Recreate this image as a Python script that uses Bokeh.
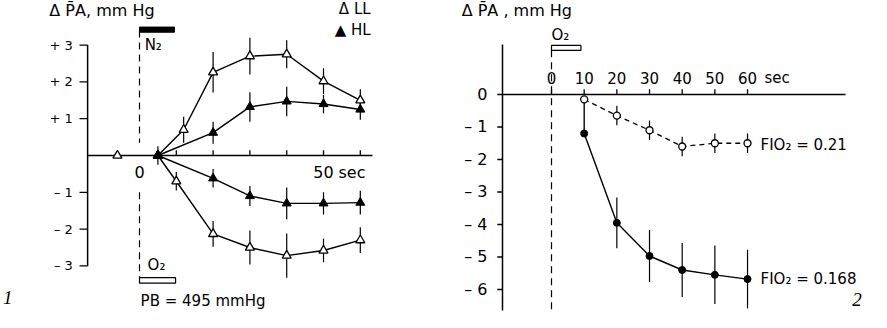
from bokeh.plotting import figure
from bokeh.models import Range1d
from bokeh.layouts import row
from bokeh.core.properties import value
from bokeh.embed import file_html
from bokeh.resources import INLINE

# ---------------- Panel 1 data (PB = 495 mmHg) ----------------
t_pre = [-6]
ll_pre = [0.0]

t_ll_up = [5, 12, 20, 30, 40, 50, 60]
ll_up = [0.0, 0.7, 2.26, 2.7, 2.75, 2.02, 1.5]
ll_up_err = [0.25, 0.35, 0.55, 0.5, 0.38, 0.35, 0.3]

t_hl_up = [5, 20, 30, 40, 50, 60]
hl_up = [0.0, 0.62, 1.32, 1.47, 1.4, 1.25]
hl_up_err = [0.0, 0.3, 0.4, 0.4, 0.25, 0.28]

t_ll_dn = [5, 10, 20, 30, 40, 50, 60]
ll_dn = [0.0, -0.7, -2.13, -2.5, -2.72, -2.58, -2.3]
ll_dn_err = [0.0, 0.25, 0.35, 0.46, 0.6, 0.32, 0.35]

t_hl_dn = [5, 20, 30, 40, 50, 60]
hl_dn = [0.0, -0.62, -1.1, -1.3, -1.3, -1.28]
hl_dn_err = [0.0, 0.25, 0.27, 0.43, 0.3, 0.32]

y1_ticks = [-3, -2, -1, 1, 2, 3]
y1_labels = ["\u2013 3", "\u2013 2", "\u2013 1", "+ 1", "+ 2", "+ 3"]
x1_ticks = [10, 20, 30, 40, 50, 60]
x1_label_pos = [0, 50]
x1_labels = ["0", "50"]
n2_period = [0, 9.5]
o2_period_1 = [0, 9.8]

# ---------------- Panel 2 data ----------------
t2 = [10, 20, 30, 40, 50, 60]
fio_021 = [-0.15, -0.65, -1.1, -1.6, -1.5, -1.5]
fio_021_err = [0.0, 0.3, 0.3, 0.3, 0.3, 0.3]
fio_0168 = [-1.2, -3.95, -4.97, -5.4, -5.55, -5.68]
fio_0168_err = [0.0, 0.78, 0.8, 0.83, 0.9, 0.9]

y2_ticks = [0, -1, -2, -3, -4, -5, -6]
y2_labels = ["0", "\u2013 1", "\u2013 2", "\u2013 3", "\u2013 4", "\u2013 5", "\u2013 6"]
x2_ticks = [0, 10, 20, 30, 40, 50, 60]
x2_labels = ["0", "10", "20", "30", "40", "50", "60"]
o2_period_2 = [0, 9]

FONT = "DejaVu Sans"


def txt(p, x, y, s, size, align="left", baseline="middle", font=FONT, style="normal", xoff=0):
    p.text(x=[x], y=[y], text=[s], text_font=value(font), text_font_size=value(size),
           text_align=align, text_baseline=baseline, text_color="black",
           text_font_style=style, x_offset=xoff)


def make_fig(w, xr, yr):
    p = figure(width=w, height=312, x_range=Range1d(*xr), y_range=Range1d(*yr),
               output_backend="svg", toolbar_location=None,
               x_axis_location=None, y_axis_location=None,
               min_border=0, min_border_left=0, min_border_right=0,
               min_border_top=0, min_border_bottom=0)
    p.outline_line_color = None
    p.grid.visible = False
    p.background_fill_color = "white"
    p.border_fill_color = "white"
    return p


def errbars(p, t, y, e, w=1.2):
    p.segment(x0=t, x1=t, y0=[a - b for a, b in zip(y, e)], y1=[a + b for a, b in zip(y, e)],
              line_color="black", line_width=w)


# ======================= Panel 1 =======================
p1 = make_fig(440, (-37.77, 81.79), (-4.266, 4.212))

# axes
ya1 = -14.1
p1.segment(x0=[ya1], x1=[ya1], y0=[min(y1_ticks)], y1=[max(y1_ticks)], line_color="black", line_width=1.5)
p1.segment(x0=[ya1 - 2.2] * len(y1_ticks), x1=[ya1] * len(y1_ticks), y0=y1_ticks, y1=y1_ticks,
           line_color="black", line_width=1.3)
p1.text(x=[ya1 - 4.0] * len(y1_ticks), y=y1_ticks, text=y1_labels, text_font=value(FONT),
        text_font_size=value("13px"), text_align="right", text_baseline="middle")
p1.segment(x0=[ya1], x1=[63.3], y0=[0], y1=[0], line_color="black", line_width=1.5)
p1.segment(x0=x1_ticks, x1=x1_ticks, y0=[0] * len(x1_ticks), y1=[0.14] * len(x1_ticks),
           line_color="black", line_width=1.3)
p1.text(x=x1_label_pos, y=[-0.45] * len(x1_label_pos), text=x1_labels, text_font=value(FONT),
        text_font_size=value("16px"), text_align="center", text_baseline="middle")
txt(p1, x1_label_pos[-1], -0.45, "sec", "16px", align="left", xoff=15)

# stimulus marks
p1.quad(left=[n2_period[0]], right=[n2_period[1]], top=[3.49], bottom=[3.35],
        fill_color="black", line_color="black")
txt(p1, 1.4, 3.0, "N\u2082", "15px")
p1.segment(x0=[0], x1=[0], y0=[3.4], y1=[0.35], line_color="black", line_width=1.2, line_dash="7 5")
p1.segment(x0=[0], x1=[0], y0=[-1.0], y1=[-3.32], line_color="black", line_width=1.2, line_dash="7 5")
p1.quad(left=[o2_period_1[0]], right=[o2_period_1[1]], top=[-3.32], bottom=[-3.47],
        fill_color="white", line_color="black", line_width=1.2)
txt(p1, 2.2, -2.98, "O\u2082", "15px")

# error bars
errbars(p1, t_ll_up, ll_up, ll_up_err)
errbars(p1, t_hl_up, hl_up, hl_up_err)
errbars(p1, t_ll_dn, ll_dn, ll_dn_err)
errbars(p1, t_hl_dn, hl_dn, hl_dn_err)

# lines
for t, y in [(t_ll_up, ll_up), (t_hl_up, hl_up), (t_ll_dn, ll_dn), (t_hl_dn, hl_dn)]:
    p1.line(t, y, line_color="black", line_width=1.4)

# markers
p1.scatter(t_ll_up, ll_up, marker="triangle", size=9, fill_color="white", line_color="black", line_width=1.3)
p1.scatter(t_ll_dn, ll_dn, marker="triangle", size=9, fill_color="white", line_color="black", line_width=1.3)
p1.scatter(t_pre, ll_pre, marker="triangle", size=9, fill_color="white", line_color="black", line_width=1.3)
p1.scatter(t_hl_up, hl_up, marker="triangle", size=9, fill_color="black", line_color="black")
p1.scatter(t_hl_dn, hl_dn, marker="triangle", size=9, fill_color="black", line_color="black")

# titles / legend
txt(p1, -24.5, 3.94, "\u0394 P\u0304A, mm Hg", "16px")
txt(p1, 62.8, 3.97, "\u0394 LL", "15px", align="right")
txt(p1, 62.8, 3.40, "\u25B2 HL", "15px", align="right")
txt(p1, 0.3, -3.96, "PB = 495 mmHg", "15px")
txt(p1, -35.8, -3.86, "1", "19px", align="center", font="Liberation Serif", style="italic")

# ======================= Panel 2 =======================
p2 = make_fig(423, (-33.98, 95.5), (-6.708, 2.892))

ya2 = -15
p2.segment(x0=[ya2], x1=[ya2], y0=[-6.65], y1=[1.54], line_color="black", line_width=1.5)
p2.segment(x0=[ya2 - 1.6] * len(y2_ticks), x1=[ya2] * len(y2_ticks), y0=y2_ticks, y1=y2_ticks,
           line_color="black", line_width=1.3)
p2.text(x=[ya2 - 4.6] * len(y2_ticks), y=y2_ticks, text=y2_labels, text_font=value(FONT),
        text_font_size=value("16px"), text_align="right", text_baseline="middle")
p2.segment(x0=[ya2], x1=[90], y0=[0], y1=[0], line_color="black", line_width=1.5)
p2.segment(x0=x2_ticks, x1=x2_ticks, y0=[0] * len(x2_ticks), y1=[0.16] * len(x2_ticks),
           line_color="black", line_width=1.3)
p2.text(x=x2_ticks, y=[0.5] * len(x2_ticks), text=x2_labels, text_font=value(FONT),
        text_font_size=value("15px"), text_align="center", text_baseline="middle")
txt(p2, x2_ticks[-1], 0.5, "sec", "15px", xoff=17)

# stimulus
p2.quad(left=[o2_period_2[0]], right=[o2_period_2[1]], top=[1.51], bottom=[1.36],
        fill_color="white", line_color="black", line_width=1.2)
txt(p2, 0.0, 1.82, "O\u2082", "15px")
p2.segment(x0=[0], x1=[0], y0=[1.36], y1=[-6.65], line_color="black", line_width=1.2, line_dash="7 5")

# error bars
errbars(p2, t2, fio_021, fio_021_err)
errbars(p2, t2, fio_0168, fio_0168_err)

# lines
p2.line(t2, fio_021, line_color="black", line_width=1.3, line_dash="5 4")
p2.line([t2[0]] + t2, [fio_021[0]] + fio_0168, line_color="black", line_width=1.4)

# markers
p2.scatter(t2, fio_021, marker="circle", size=7, fill_color="white", line_color="black", line_width=1.3)
p2.scatter(t2, fio_0168, marker="circle", size=7, fill_color="black", line_color="black")

txt(p2, -27.5, 2.585, "\u0394 P\u0304A , mm Hg", "16px")
txt(p2, t2[-1], -1.54, "FIO\u2082 = 0.21", "15px", xoff=13)
txt(p2, t2[-1], -5.69, "FIO\u2082 = 0.168", "15px", xoff=13)
txt(p2, 95.0, -6.3, "2", "19px", align="right", font="Liberation Serif", style="italic")

layout = row(p1, p2)
open("out.html", "w").write(file_html(layout, INLINE))
